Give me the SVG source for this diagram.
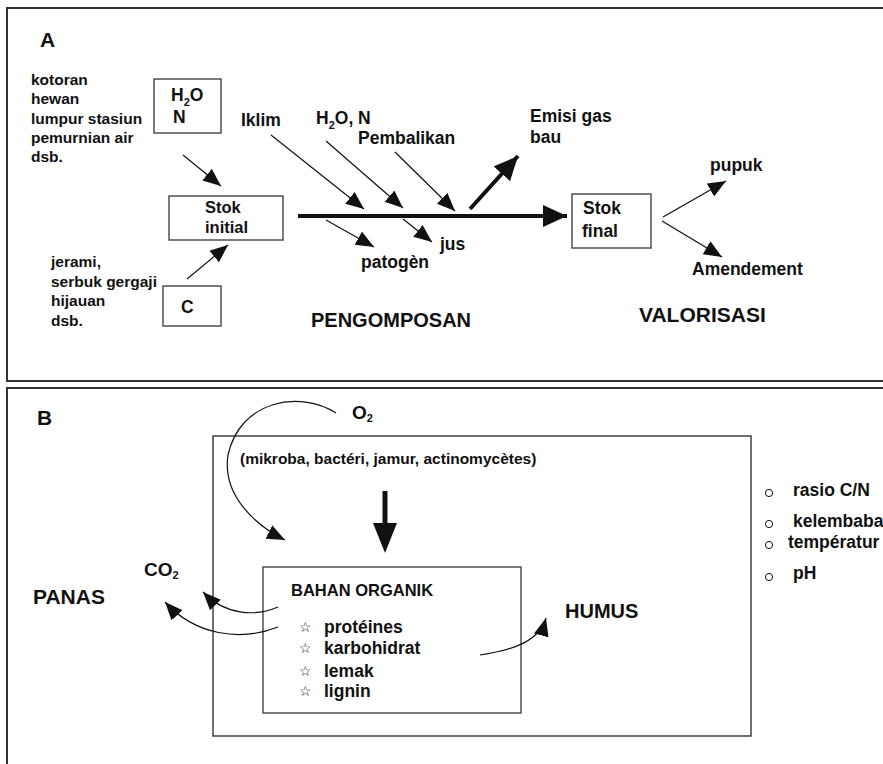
<svg xmlns="http://www.w3.org/2000/svg" width="883" height="764" viewBox="0 0 883 764">
<defs>
<style>
text{font-family:"Liberation Sans",Arial,sans-serif;font-weight:bold;fill:#111}
.s15{font-size:15.5px}
.s17{font-size:17.5px}
.s20{font-size:20px}
.sub{font-size:11px}
.panel{fill:none;stroke:#333;stroke-width:2}
.box{fill:#fff;stroke:#444;stroke-width:1.4}
.ln{fill:none;stroke:#111;stroke-width:1.2}
.thick{fill:none;stroke:#111;stroke-width:4}
.sym{font-family:"DejaVu Sans",sans-serif;font-weight:normal;font-size:14px}
</style>
<marker id="ah" markerUnits="userSpaceOnUse" markerWidth="20" markerHeight="16" refX="18" refY="7.5" orient="auto"><path d="M0,0 L18,7.5 L0,15 z" fill="#111"/></marker>
<marker id="ahT" markerUnits="userSpaceOnUse" markerWidth="26" markerHeight="24" refX="24" refY="11" orient="auto"><path d="M0,0 L24,11 L0,22 z" fill="#111"/></marker>
</defs>

<g id="panelA">
<rect class="panel" x="7" y="8" width="900" height="373"/>
<text class="s20" x="40" y="47" style="font-size:21px">A</text>
</g>
<g id="panelB">
<rect class="panel" x="7" y="388" width="900" height="400"/>
<text class="s20" x="37" y="425" style="font-size:21px">B</text>
</g>

<g id="sources-N">
<text class="s15" x="31" y="85">kotoran</text>
<text class="s15" x="31" y="104">hewan</text>
<text class="s15" x="31" y="124">lumpur stasiun</text>
<text class="s15" x="31" y="143">pemurnian air</text>
<text class="s15" x="31" y="162">dsb.</text>
</g>
<g id="box-H2ON">
<rect class="box" x="154" y="79" width="67" height="54"/>
<text class="s17" x="171" y="101">H<tspan class="sub" dy="5">2</tspan><tspan dy="-5">O</tspan></text>
<text class="s17" x="173" y="123">N</text>
</g>
<g id="sources-C">
<text class="s15" x="51" y="267">jerami,</text>
<text class="s15" x="51" y="287">serbuk gergaji</text>
<text class="s15" x="51" y="306">hijauan</text>
<text class="s15" x="51" y="326">dsb.</text>
</g>
<g id="box-C">
<rect class="box" x="163" y="286" width="58" height="40"/>
<text class="s17" x="181" y="313">C</text>
</g>
<g id="stok-initial">
<rect class="box" x="169" y="196" width="114" height="44"/>
<text x="205" y="213" style="font-size:16.5px">Stok</text>
<text x="205" y="233" style="font-size:16.5px">initial</text>
</g>
<g id="stok-final">
<rect class="box" x="572" y="194" width="79" height="54"/>
<text class="s17" x="583" y="214">Stok</text>
<text class="s17" x="582" y="237">final</text>
</g>

<g id="labelsA">
<text class="s17" x="241" y="126">Iklim</text>
<text class="s17" x="316" y="124">H<tspan class="sub" dy="5">2</tspan><tspan dy="-5">O, N</tspan></text>
<text class="s17" x="358" y="144">Pembalikan</text>
<text class="s17" x="530" y="122">Emisi gas</text>
<text class="s17" x="530" y="143">bau</text>
<text class="s17" x="440" y="250">jus</text>
<text class="s17" x="361" y="268">patogèn</text>
<text class="s17" x="710" y="171">pupuk</text>
<text class="s17" x="692" y="275">Amendement</text>
<text x="311" y="327" style="font-size:20px">PENGOMPOSAN</text>
<text x="639" y="322" style="font-size:21px">VALORISASI</text>
</g>

<g id="connectorsA">
<line class="ln" x1="183" y1="155" x2="221" y2="186" marker-end="url(#ah)"/>
<line class="ln" x1="187" y1="279" x2="228" y2="245" marker-end="url(#ah)"/>
<line class="thick" x1="298" y1="216" x2="567" y2="216" marker-end="url(#ahT)"/>
<line class="thick" x1="470" y1="209" x2="518" y2="156" marker-end="url(#ahT)"/>
<line class="ln" x1="271" y1="135" x2="364" y2="209" marker-end="url(#ah)"/>
<line class="ln" x1="326" y1="141" x2="403" y2="208" marker-end="url(#ah)"/>
<line class="ln" x1="395" y1="152" x2="455" y2="211" marker-end="url(#ah)"/>
<line class="ln" x1="326" y1="220" x2="374" y2="247" marker-end="url(#ah)"/>
<line class="ln" x1="403" y1="219" x2="432" y2="242" marker-end="url(#ah)"/>
<line class="ln" x1="663" y1="217" x2="726" y2="181" marker-end="url(#ah)"/>
<line class="ln" x1="662" y1="221" x2="722" y2="257" marker-end="url(#ah)"/>
</g>

<g id="reactor">
<rect fill="none" stroke="#333" stroke-width="1.4" x="213" y="436" width="538" height="300"/>
<text class="s15" x="240" y="464">(mikroba, bactéri, jamur, actinomycètes)</text>
</g>
<g id="bahan-organik">
<rect class="box" x="263" y="567" width="258" height="146"/>
<text x="291" y="596" style="font-size:16.5px">BAHAN ORGANIK</text>
<text class="sym" x="299" y="632">☆</text>
<text class="s17" x="324" y="633">protéines</text>
<text class="sym" x="299" y="653">☆</text>
<text class="s17" x="324" y="654">karbohidrat</text>
<text class="sym" x="299" y="676">☆</text>
<text class="s17" x="324" y="677">lemak</text>
<text class="sym" x="299" y="696">☆</text>
<text class="s17" x="324" y="697">lignin</text>
</g>
<g id="labelsB">
<text x="352" y="419" style="font-size:19px">O<tspan class="sub" dy="3">2</tspan></text>
<text x="144" y="576" style="font-size:19px">CO<tspan class="sub" dy="3">2</tspan></text>
<text x="33" y="604" style="font-size:21px">PANAS</text>
<text x="565" y="618" style="font-size:20px">HUMUS</text>
</g>
<g id="factors">
<circle cx="769" cy="493" r="3.6" fill="none" stroke="#111" stroke-width="1"/>
<text class="s17" x="793" y="496">rasio C/N</text>
<circle cx="769" cy="524" r="3.6" fill="none" stroke="#111" stroke-width="1"/>
<text class="s17" x="793" y="527">kelembaba</text>
<circle cx="769" cy="545" r="3.6" fill="none" stroke="#111" stroke-width="1"/>
<text class="s17" x="788" y="548">températur</text>
<circle cx="769" cy="577" r="3.6" fill="none" stroke="#111" stroke-width="1"/>
<text class="s17" x="793" y="579">pH</text>
</g>

<g id="connectorsB">
<path class="ln" d="M336,413 C300,390 240,400 228,455 C222,495 255,525 285,540" marker-end="url(#ah)"/>
<line x1="385" y1="491" x2="385" y2="526" stroke="#111" stroke-width="5"/>
<polygon points="373,523 397,523 385,553" fill="#111"/>
<path class="ln" d="M278,607 C255,617 225,615 203,592" marker-end="url(#ah)"/>
<path class="ln" d="M278,627 C240,642 195,635 165,602" marker-end="url(#ah)"/>
<path class="ln" d="M480,655 C515,650 540,640 546,618" marker-end="url(#ah)"/>
</g>
</svg>
